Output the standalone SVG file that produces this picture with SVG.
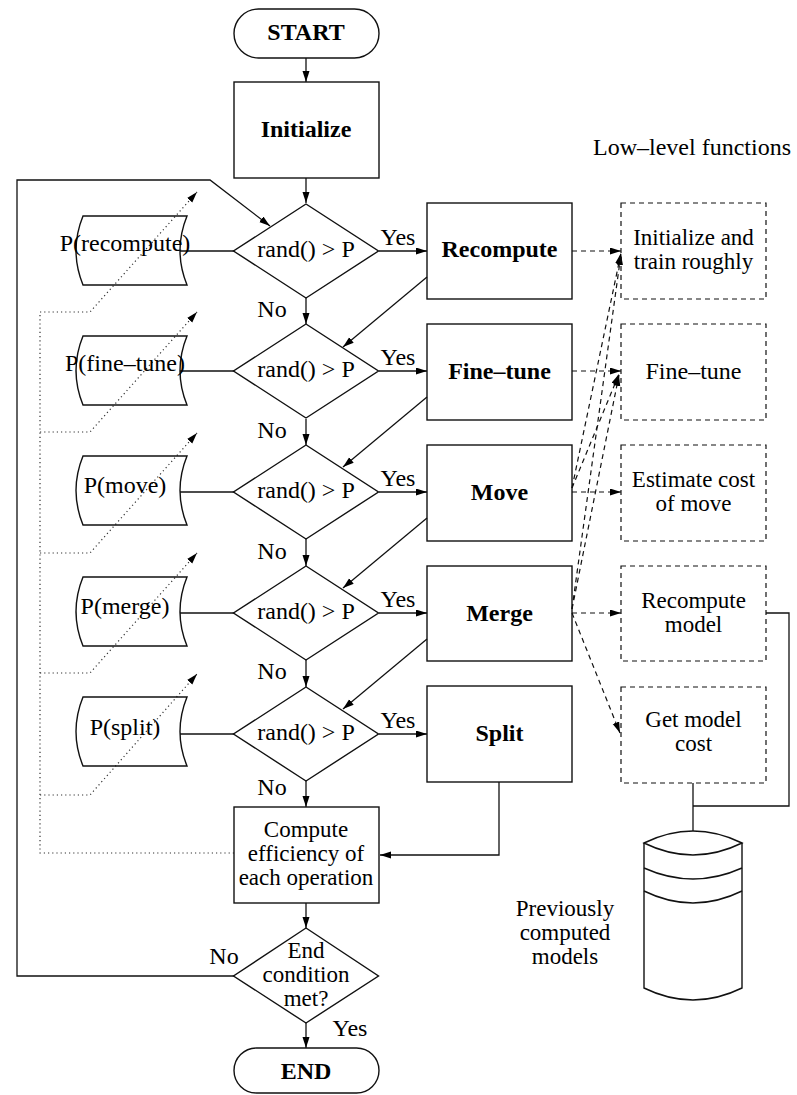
<svg xmlns="http://www.w3.org/2000/svg" width="797" height="1095" viewBox="0 0 797 1095">
<style>
  .ln{fill:none;stroke:#111;stroke-width:1.3}
  .dash{fill:none;stroke:#111;stroke-width:1.2;stroke-dasharray:5 4}
  .dot{fill:none;stroke:#333;stroke-width:1.2;stroke-dasharray:1.2 3}
  .shp{fill:none;stroke:#111;stroke-width:1.4}
  .dshp{fill:none;stroke:#111;stroke-width:1.2;stroke-dasharray:5 4}
  .t{font-family:'Liberation Serif','DejaVu Serif',serif;font-size:24px;fill:#000;text-anchor:middle}
  .m{font-size:23px}
  .b{font-weight:bold}
</style>
<defs>
  <marker id="ah" markerUnits="userSpaceOnUse" markerWidth="12" markerHeight="8" refX="11" refY="3.5" orient="auto">
    <path d="M0,0 L11,3.5 L0,7 Z" fill="#000"/>
  </marker>
</defs>
<rect width="797" height="1095" fill="#fff"/>

<g id="connectors">
  <path class="ln" marker-end="url(#ah)" d="M306,58 V82"/>
  <path class="ln" marker-end="url(#ah)" d="M306,178 V203"/>
  <path class="ln" marker-end="url(#ah)" d="M306,298 V324"/>
  <path class="ln" marker-end="url(#ah)" d="M306,419 V445"/>
  <path class="ln" marker-end="url(#ah)" d="M306,539 V566"/>
  <path class="ln" marker-end="url(#ah)" d="M306,660 V687"/>
  <path class="ln" marker-end="url(#ah)" d="M306,781 V807"/>
  <path class="ln" marker-end="url(#ah)" d="M306,903 V928"/>
  <path class="ln" marker-end="url(#ah)" d="M306,1023 V1048"/>
  <path class="ln" marker-end="url(#ah)" d="M379,251 H427"/>
  <path class="ln" marker-end="url(#ah)" d="M379,371 H427"/>
  <path class="ln" marker-end="url(#ah)" d="M379,492 H427"/>
  <path class="ln" marker-end="url(#ah)" d="M379,613 H427"/>
  <path class="ln" marker-end="url(#ah)" d="M379,734 H427"/>
  <path class="ln" marker-end="url(#ah)" d="M427,277 L343,347"/>
  <path class="ln" marker-end="url(#ah)" d="M427,397 L343,467"/>
  <path class="ln" marker-end="url(#ah)" d="M427,518 L343,588"/>
  <path class="ln" marker-end="url(#ah)" d="M427,639 L343,709"/>
  <path class="ln" marker-end="url(#ah)" d="M499,782 V855 H380"/>
  <path class="ln" marker-end="url(#ah)" d="M234,976 H17 V180 H210 L270,226"/>
  <path class="ln" d="M180,251 H234"/>
  <path class="ln" d="M180,371 H234"/>
  <path class="ln" d="M180,492 H234"/>
  <path class="ln" d="M180,613 H234"/>
  <path class="ln" d="M180,734 H234"/>
  <path class="dot" d="M234,853 H40 V312"/>
  <path class="dot" marker-end="url(#ah)" d="M40,312 H90 L197,192"/>
  <path class="dot" marker-end="url(#ah)" d="M40,432 H90 L197,312"/>
  <path class="dot" marker-end="url(#ah)" d="M40,553 H90 L197,433"/>
  <path class="dot" marker-end="url(#ah)" d="M40,673 H90 L197,553"/>
  <path class="dot" marker-end="url(#ah)" d="M40,795 H90 L197,674"/>
  <path class="dash" marker-end="url(#ah)" d="M572,251 H621"/>
  <path class="dash" marker-end="url(#ah)" d="M572,371 H621"/>
  <path class="dash" marker-end="url(#ah)" d="M572,492 H621"/>
  <path class="dash" marker-end="url(#ah)" d="M572,613 H621"/>
  <path class="dash" marker-end="url(#ah)" d="M572,613 L620,733"/>
  <path class="dash" marker-end="url(#ah)" d="M572,488 L621,253"/>
  <path class="dash" marker-end="url(#ah)" d="M572,488 L619,374"/>
  <path class="dash" marker-end="url(#ah)" d="M572,609 L621,254"/>
  <path class="dash" marker-end="url(#ah)" d="M572,609 L619,375"/>
  <path class="ln" d="M766,613 H789 V806 H693"/>
  <path class="ln" d="M693,783 V831"/>
</g>

<g class="t">
<g id="start">
  <rect class="shp" x="234" y="9" width="145" height="49" rx="24.5"/>
  <text class="b" x="306" y="40">START</text>
</g>
<g id="initialize">
  <rect class="shp" x="234" y="82" width="145" height="96"/>
  <text class="b" x="306" y="137">Initialize</text>
</g>

<g id="decision1">
  <polygon class="shp" points="306,204 378.5,251 306,298 233.5,251"/>
  <text x="306" y="257">rand() &gt; P</text>
</g>
<g id="decision2">
  <polygon class="shp" points="306,324 378.5,371 306,418 233.5,371"/>
  <text x="306" y="377">rand() &gt; P</text>
</g>
<g id="decision3">
  <polygon class="shp" points="306,445 378.5,492 306,539 233.5,492"/>
  <text x="306" y="498">rand() &gt; P</text>
</g>
<g id="decision4">
  <polygon class="shp" points="306,566 378.5,613 306,660 233.5,613"/>
  <text x="306" y="619">rand() &gt; P</text>
</g>
<g id="decision5">
  <polygon class="shp" points="306,687 378.5,734 306,781 233.5,734"/>
  <text x="306" y="740">rand() &gt; P</text>
</g>

<g id="labels">
  <text x="398" y="245">Yes</text>
  <text x="398" y="365">Yes</text>
  <text x="398" y="486">Yes</text>
  <text x="398" y="607">Yes</text>
  <text x="398" y="728">Yes</text>
  <text x="272" y="317">No</text>
  <text x="272" y="438">No</text>
  <text x="272" y="559">No</text>
  <text x="272" y="679">No</text>
  <text x="272" y="795">No</text>
  <text x="224" y="964">No</text>
  <text x="350" y="1036">Yes</text>
</g>

<g id="p-recompute">
  <path class="shp" d="M83,216 H187 Q173,250.5 187,285 H83 Q69,250.5 83,216 Z"/>
  <text x="125" y="251">P(recompute)</text>
</g>
<g id="p-finetune">
  <path class="shp" d="M83,336 H187 Q173,370.5 187,405 H83 Q69,370.5 83,336 Z"/>
  <text x="125" y="371">P(fine–tune)</text>
</g>
<g id="p-move">
  <path class="shp" d="M83,456 H187 Q173,490.5 187,525 H83 Q69,490.5 83,456 Z"/>
  <text x="125" y="493">P(move)</text>
</g>
<g id="p-merge">
  <path class="shp" d="M83,577 H187 Q173,611.5 187,646 H83 Q69,611.5 83,577 Z"/>
  <text x="125" y="614">P(merge)</text>
</g>
<g id="p-split">
  <path class="shp" d="M83,697 H187 Q173,731.5 187,766 H83 Q69,731.5 83,697 Z"/>
  <text x="125" y="735">P(split)</text>
</g>

<g id="recompute">
  <rect class="shp" x="427" y="203" width="145" height="96"/>
  <text class="b" x="499.5" y="257">Recompute</text>
</g>
<g id="finetune">
  <rect class="shp" x="427" y="324" width="145" height="96"/>
  <text class="b" x="499.5" y="379">Fine–tune</text>
</g>
<g id="move">
  <rect class="shp" x="427" y="445" width="145" height="96"/>
  <text class="b" x="499.5" y="500">Move</text>
</g>
<g id="merge">
  <rect class="shp" x="427" y="566" width="145" height="95"/>
  <text class="b" x="499.5" y="621">Merge</text>
</g>
<g id="split">
  <rect class="shp" x="427" y="686" width="145" height="96"/>
  <text class="b" x="499.5" y="741">Split</text>
</g>

<g id="compute-efficiency">
  <rect class="shp" x="234" y="807" width="145" height="96"/>
  <text class="m" x="306" y="837">Compute</text>
  <text class="m" x="306" y="861">efficiency of</text>
  <text class="m" x="306" y="885">each operation</text>
</g>
<g id="end-condition">
  <polygon class="shp" points="306,928 378.5,976 306,1023 233.5,976"/>
  <text class="m" x="306" y="958">End</text>
  <text class="m" x="306" y="982">condition</text>
  <text class="m" x="306" y="1006">met?</text>
</g>
<g id="end">
  <rect class="shp" x="234" y="1048" width="145" height="45" rx="22.5"/>
  <text class="b" x="306" y="1079">END</text>
</g>

<g id="lowlevel-title">
  <text x="692" y="155">Low–level functions</text>
</g>
<g id="ll-init">
  <rect class="dshp" x="621" y="203" width="145" height="96"/>
  <text class="m" x="693.5" y="245">Initialize and</text>
  <text class="m" x="693.5" y="269">train roughly</text>
</g>
<g id="ll-finetune">
  <rect class="dshp" x="621" y="324" width="145" height="96"/>
  <text x="693.5" y="379">Fine–tune</text>
</g>
<g id="ll-estimate">
  <rect class="dshp" x="621" y="445" width="145" height="96"/>
  <text class="m" x="693.5" y="487">Estimate cost</text>
  <text class="m" x="693.5" y="511">of move</text>
</g>
<g id="ll-recompute">
  <rect class="dshp" x="621" y="566" width="145" height="95"/>
  <text class="m" x="693.5" y="608">Recompute</text>
  <text class="m" x="693.5" y="632">model</text>
</g>
<g id="ll-getcost">
  <rect class="dshp" x="621" y="687" width="145" height="96"/>
  <text class="m" x="693.5" y="727">Get model</text>
  <text class="m" x="693.5" y="751">cost</text>
</g>

<g id="database">
  <path class="shp" d="M644,843 V988 Q693,1012 742,988 V843"/>
  <path class="shp" d="M644,843 Q693,819 742,843 Q693,867 644,843 Z"/>
  <path class="shp" d="M644,868 Q693,890 742,868"/>
  <path class="shp" d="M644,891 Q693,915 742,891"/>
  <text class="m" x="565" y="916">Previously</text>
  <text class="m" x="565" y="940">computed</text>
  <text class="m" x="565" y="964">models</text>
</g>
</g>
</svg>
